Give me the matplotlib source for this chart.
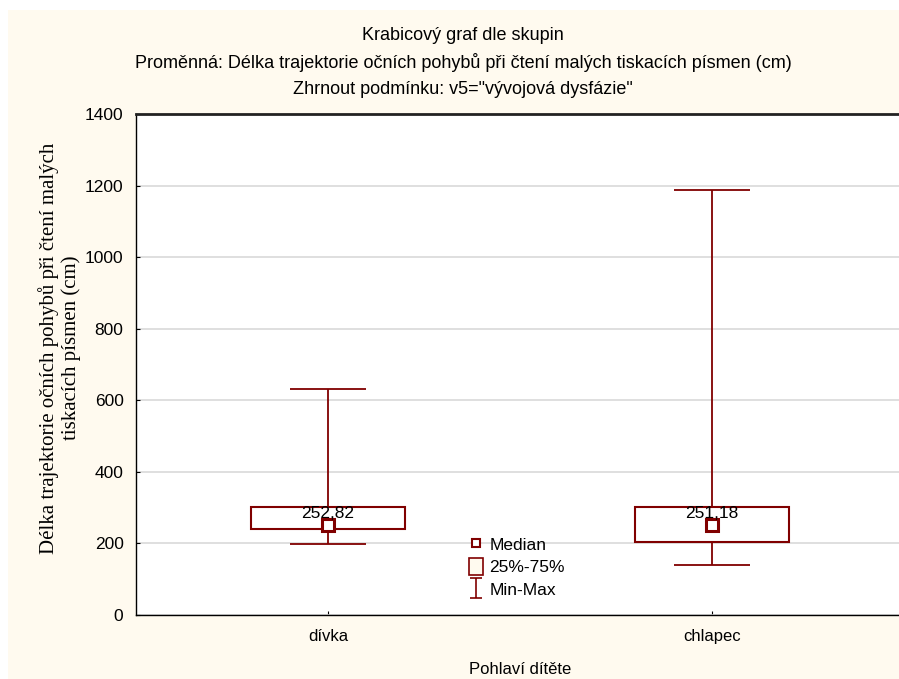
import numpy as np
import matplotlib.pyplot as plt
from matplotlib.patches import Rectangle, Patch
from matplotlib.lines import Line2D
from matplotlib.path import Path

plt.rcParams['font.family'] = ['Liberation Sans', 'DejaVu Sans']

groups = ['dívka', 'chlapec']
mins = [197.5, 139.7]
q1 = [240.3, 204.8]
medians = [252.82, 251.18]
q3 = [302.6, 301.0]
maxs = [630.6, 1187.0]
median_labels = ['252,82', '251,18']
yticks = [0, 200, 400, 600, 800, 1000, 1200, 1400]

dark_red = '#800000'
cream = '#FFFAEF'

fig = plt.figure(figsize=(8.99, 6.79), dpi=100)
fig.patch.set_facecolor('white')
# cream panel behind everything
fig.patches.append(Rectangle((8 / 899, 0), 1, 1 - 10 / 679, transform=fig.transFigure,
                             facecolor=cream, edgecolor='none', zorder=-10))

ax = fig.add_axes([136 / 899, 1 - 615 / 679, 768 / 899, 501 / 679])
ax.set_facecolor('white')

x = np.arange(len(groups))
box_w = 0.40
cap_w = 0.20
for i in x:
    ax.add_patch(Rectangle((i - box_w / 2, q1[i]), box_w, q3[i] - q1[i],
                           facecolor='none', edgecolor=dark_red, lw=1.5, zorder=3))
    ax.vlines(i, q3[i], maxs[i], color=dark_red, lw=1.3, zorder=3)
    ax.vlines(i, mins[i], q1[i], color=dark_red, lw=1.3, zorder=3)
    ax.hlines([mins[i], maxs[i]], i - cap_w / 2, i + cap_w / 2, color=dark_red, lw=1.3, zorder=3)
    ax.annotate(median_labels[i], (i, medians[i]), xytext=(0, 5), textcoords='offset points',
                ha='center', va='baseline', fontsize=12.5, zorder=5)
ax.plot(x, medians, 's', ms=8.5, mfc='white', mec=dark_red, mew=2.2, ls='none', zorder=4)

ax.set_xlim(-0.5, 1.5)
ax.set_ylim(0, 1400)
ax.set_yticks(yticks)
ax.set_xticks(x)
ax.set_xticklabels(groups, fontsize=12)
ax.tick_params(axis='y', labelsize=12.5, direction='in', length=3, pad=9)
ax.tick_params(axis='x', direction='in', length=3, pad=10)
ax.grid(axis='y', color='#D9D9D9', lw=1.2)
ax.set_axisbelow(True)
for s in ['left', 'bottom']:
    ax.spines[s].set_linewidth(1.0)
ax.spines['top'].set_linewidth(2.0)
ax.spines['top'].set_color('#222222')
ax.spines['right'].set_visible(False)

ax.set_xlabel('Pohlaví dítěte', fontsize=12, labelpad=13)
ax.set_ylabel('Délka trajektorie očních pohybů při čtení malých\ntiskacích písmen (cm)',
              fontsize=15, family=['Liberation Serif', 'DejaVu Serif'], linespacing=1.1)
ax.yaxis.set_label_coords(-0.072, 0.533)

fig.text(463 / 899, 1 - 36 / 679, 'Krabicový graf dle skupin', ha='center', va='center', fontsize=13)
fig.text(463 / 899, 1 - 62 / 679,
         'Proměnná: Délka trajektorie očních pohybů při čtení malých tiskacích písmen (cm)',
         ha='center', va='center', fontsize=13)
fig.text(463 / 899, 1 - 90 / 679, 'Zhrnout podmínku: v5="vývojová dysfázie"',
         ha='center', va='center', fontsize=13)

# min-max marker shape
minmax_path = Path([(-0.6, 1), (0.6, 1), (0, 1), (0, -1), (-0.6, -1), (0.6, -1)],
                   [Path.MOVETO, Path.LINETO, Path.MOVETO, Path.LINETO, Path.MOVETO, Path.LINETO])
handles = [
    Line2D([0], [0], marker='s', ms=6, mfc='white', mec=dark_red, mew=1.5, ls='none'),
    Patch(facecolor=cream, edgecolor=dark_red, lw=1.2),
    Line2D([0], [0], marker=minmax_path, ms=15, mfc='none', mec=dark_red, mew=1.2, ls='none'),
]
ax.legend(handles, ['Median', '25%-75%', 'Min-Max'], loc='upper left',
          bbox_to_anchor=(0.425, 0.172), frameon=False, fontsize=12.5,
          handlelength=0.8, handleheight=1.1, handletextpad=0.35, labelspacing=0.3,
          borderaxespad=0)

fig.savefig('out.png', dpi=100, facecolor=fig.get_facecolor())
